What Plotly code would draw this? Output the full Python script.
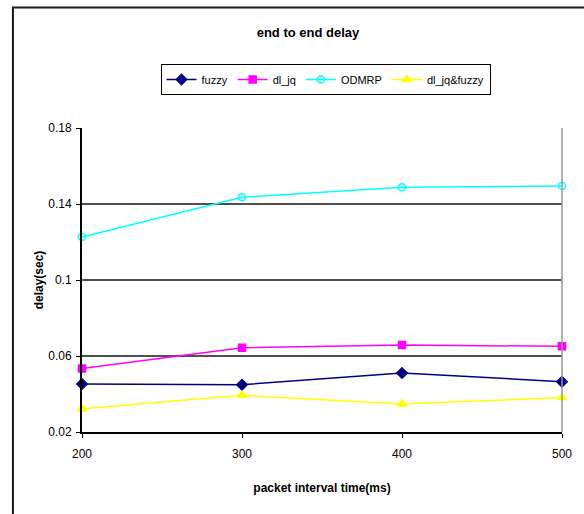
import plotly.graph_objects as go

x_vals = [200, 300, 400, 500]
fuzzy = [0.0453, 0.0449, 0.0510, 0.0465]
dl_jq = [0.0534, 0.0644, 0.0658, 0.0651]
odmrp = [0.1226, 0.1435, 0.1488, 0.1495]
dl_jq_fuzzy = [0.0323, 0.0393, 0.0347, 0.0381]
y_ticks = [0.02, 0.06, 0.1, 0.14, 0.18]
y_tick_labels = ["0.02", "0.06", "0.1", "0.14", "0.18"]

W, H = 584, 514
L, R, T, B = 82, 565, 128, 432

def px_x(p):
    return (p - L) / (R - L)

def px_y(p):
    return (B - p) / (B - T)

fig = go.Figure()
series = [
    ("fuzzy", fuzzy, "#000080", "diamond", 8),
    ("dl_jq", dl_jq, "#FF00FF", "square", 7),
    ("ODMRP", odmrp, "#00FFFF", "circle-open", 7),
    ("dl_jq&fuzzy", dl_jq_fuzzy, "#FFFF00", "triangle-up", 8),
]
for name, ys, col, sym, sz in series:
    fig.add_trace(go.Scatter(
        x=x_vals, y=ys, name=name, mode="lines+markers",
        line=dict(color=col, width=1.5),
        marker=dict(symbol=sym, size=sz, color=col, line=dict(color=col, width=1.5)),
        cliponaxis=False,
    ))

font = "Liberation Sans, Arial, sans-serif"
fig.update_layout(
    width=W, height=H,
    margin=dict(l=L, r=W - R, t=T, b=H - B),
    paper_bgcolor="white", plot_bgcolor="white",
    font=dict(family=font, size=12, color="black"),
    title=dict(text="<b>end to end delay</b>", x=308 / W,
               xanchor="center", y=1 - 32 / H, yanchor="middle",
               font=dict(size=13, family=font)),
    showlegend=True,
    legend=dict(orientation="h", x=px_x(161), y=px_y(64), xanchor="left", yanchor="top",
                bordercolor="black", borderwidth=1, bgcolor="white",
                font=dict(size=11, family=font), tracegroupgap=0,
                itemwidth=30),
    xaxis=dict(range=[200, 500], tickvals=x_vals, ticktext=[str(v) for v in x_vals],
               showgrid=False, zeroline=False, showline=True, linecolor="black", linewidth=1.5,
               ticks="outside", ticklen=4, tickcolor="black", ticklabelstandoff=6,
               title=dict(text="<b>packet interval time(ms)</b>", font=dict(size=12), standoff=23)),
    yaxis=dict(range=[0.02, 0.18], tickvals=y_ticks, ticktext=y_tick_labels,
               showgrid=True, gridcolor="#505050", gridwidth=1.5, zeroline=False,
               showline=True, linecolor="black", linewidth=2,
               ticks="outside", ticklen=4, tickcolor="black", ticklabelstandoff=2,
               title=dict(text="<b>delay(sec)</b>", font=dict(size=12), standoff=2)),
    shapes=[
        dict(type="line", xref="paper", yref="paper", x0=1, x1=1, y0=0, y1=1,
             line=dict(color="#999999", width=1.5)),
        dict(type="rect", xref="paper", yref="paper",
             x0=px_x(12.5), x1=px_x(700), y0=px_y(700), y1=px_y(7.5),
             line=dict(color="#1a1a1a", width=2), fillcolor="rgba(0,0,0,0)", layer="above"),
    ],
)

fig.write_html("out.html", config={"displayModeBar": False},
               post_script="document.body.style.margin='0';document.body.style.padding='0';")
